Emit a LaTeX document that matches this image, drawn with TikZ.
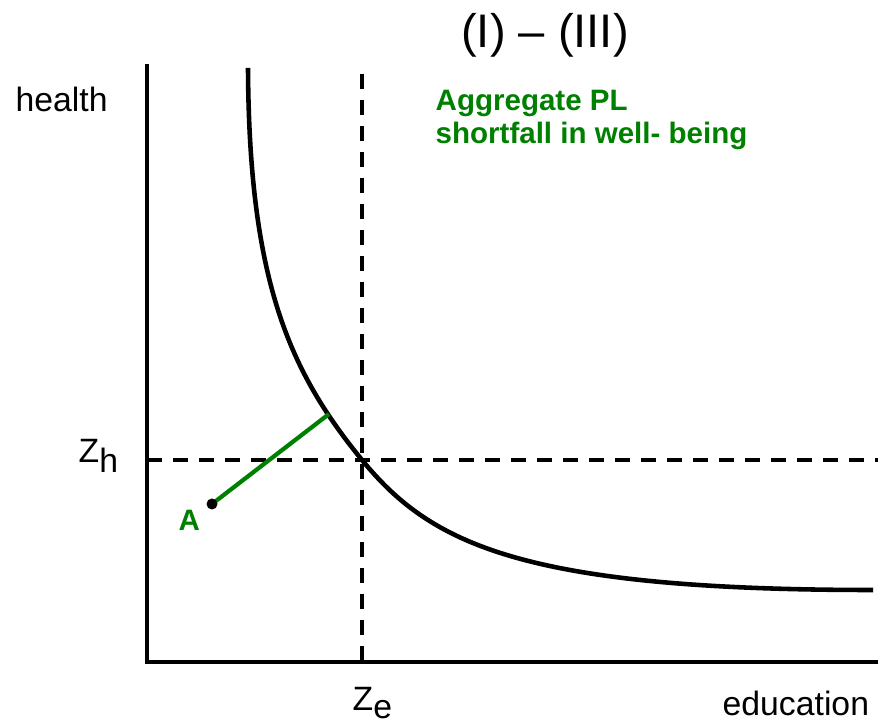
\documentclass[tikz,border=0pt]{standalone}
\usepackage{fontspec}
\setmainfont{Liberation Sans}
\usetikzlibrary{positioning}
\definecolor{plgreen}{RGB}{0,128,0}

\begin{document}
\begin{tikzpicture}[
  axis/.style={line width=1.2pt},
  guide/.style={line width=1.2pt, dash pattern=on 0.15cm off 0.11cm},
  curve/.style={line width=1.3pt, line join=round},
  gap/.style={line width=1.2pt, draw=plgreen},
  lbl/.style={inner sep=0pt, font=\fontsize{9.6}{11}\selectfont},
  note/.style={inner sep=0pt, text=plgreen, align=left, font=\fontsize{8.4}{9.4}\selectfont\bfseries}
]
\useasboundingbox (0,0) rectangle (8.78,7.22);

\coordinate (O) at (1.47,0.60);
\coordinate (ytop) at (1.47,6.58);
\coordinate (xend) at (8.78,0.60);
\coordinate (zetop) at (3.62,6.48);
\coordinate (zebot) at (3.62,0.60);
\coordinate (zhleft) at (1.47,2.62);
\coordinate (zhright) at (8.78,2.62);
\coordinate (ctop) at (2.48,6.54);
\coordinate (cmid) at (3.62,2.62);
\coordinate (cend) at (8.73,1.32);
\coordinate (A) at (2.12,2.18);
\coordinate (P) at (3.29,3.08);

\draw[axis] (ytop) -- (O) -- (xend);
\draw[guide] (zetop) -- (zebot);
\draw[guide] (zhleft) -- (zhright);
\draw[curve] (ctop) .. controls (2.49,4.40) and (2.90,3.50) .. (cmid)
  .. controls (4.30,1.79) and (5.20,1.32) .. (cend);
\draw[gap] (A) -- (P);
\fill (A) circle (0.055);

\node[inner sep=0pt, anchor=base, font=\fontsize{13.4}{15}\selectfont] (title) at (5.45,6.74) {(I) -- (III)};
\node[lbl, anchor=base west] (health) at (0.15,6.10) {health};
\node[lbl, anchor=base west] (educ) at (7.22,0.06) {education};
\node[lbl, anchor=base west] (zh) at (0.78,2.59) {Z\raisebox{-0.1cm}{h}};
\node[lbl, anchor=base west] (ze) at (3.52,0.12) {Z\raisebox{-0.08cm}{e}};
\node[note, anchor=north west] (pl) at (4.35,6.33) {Aggregate PL\\shortfall in well- being};
\node[note, anchor=base west] (alabel) at (1.78,1.91) {A};
\end{tikzpicture}
\end{document}
